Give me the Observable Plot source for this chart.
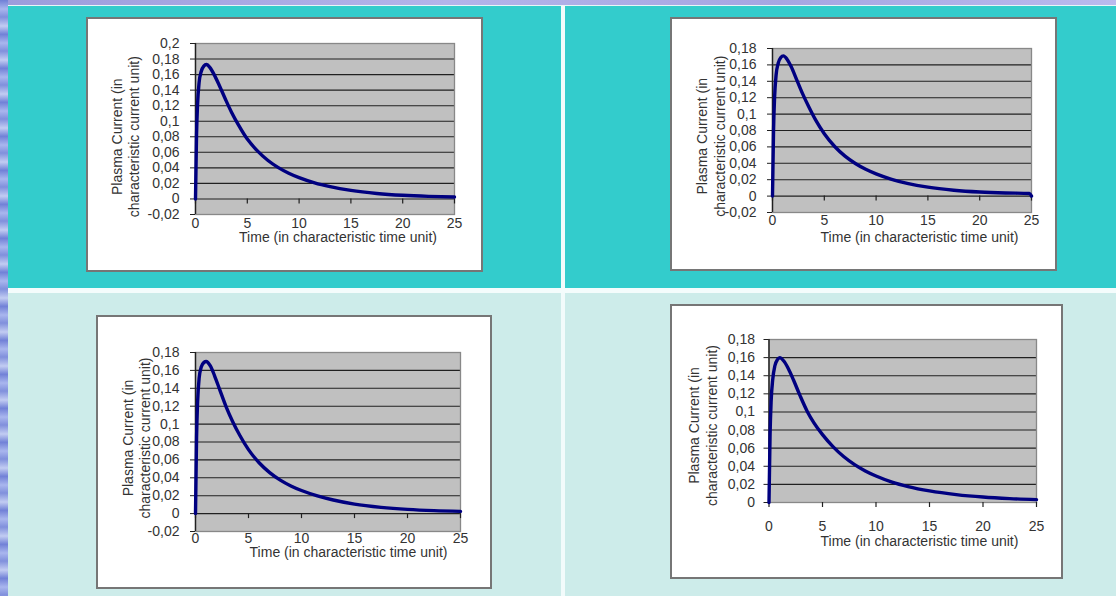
<!DOCTYPE html>
<html><head><meta charset="utf-8">
<script src="https://cdn.jsdelivr.net/npm/d3@7"></script>
<script src="https://cdn.jsdelivr.net/npm/@observablehq/plot@0.6"></script>
<style>
html,body{margin:0;padding:0}
body{width:1116px;height:596px;overflow:hidden;position:relative;background:#cdecea;font-family:"Liberation Sans",Arial,sans-serif}
.bg{position:absolute}
</style></head><body>
<div class="bg" style="left:0;top:0;width:1116px;height:5px;background:linear-gradient(90deg,#9c9cdc,#b4b4ea 40%,#a6a6e2 70%,#babaee)"></div>
<div class="bg" style="left:0;top:0;width:8px;height:596px;background:repeating-linear-gradient(180deg,#6f7fd6 0px,#a9b6ee 9px,#8090dc 17px,#c2ccf2 26px,#7484d8 34px)"></div>
<div class="bg" style="left:8px;top:5px;width:1108px;height:1px;background:#e8f6f6"></div>
<div class="bg" style="left:8px;top:6px;width:553px;height:282px;background:#33cccc"></div>
<div class="bg" style="left:565px;top:6px;width:551px;height:282px;background:#33cccc"></div>
<div class="bg" style="left:561px;top:6px;width:4px;height:590px;background:#f2fbfb"></div>
<div class="bg" style="left:8px;top:288px;width:1108px;height:5px;background:#f4fcfc"></div>
<div class="bg" style="left:8px;top:293px;width:553px;height:303px;background:#cdecea"></div>
<div class="bg" style="left:565px;top:293px;width:551px;height:303px;background:#cdecea"></div>
<script>
// ---- data ----
const xTicks = [0, 5, 10, 15, 20, 25];
const xTickLabels = ["0", "5", "10", "15", "20", "25"];

const yTicksA = [-0.02, 0, 0.02, 0.04, 0.06, 0.08, 0.1, 0.12, 0.14, 0.16, 0.18, 0.2];
const yTickLabelsA = ["-0,02", "0", "0,02", "0,04", "0,06", "0,08", "0,1", "0,12", "0,14", "0,16", "0,18", "0,2"];
const yTicksB = [-0.02, 0, 0.02, 0.04, 0.06, 0.08, 0.1, 0.12, 0.14, 0.16, 0.18];
const yTickLabelsB = ["-0,02", "0", "0,02", "0,04", "0,06", "0,08", "0,1", "0,12", "0,14", "0,16", "0,18"];
const yTicksC = [0, 0.02, 0.04, 0.06, 0.08, 0.1, 0.12, 0.14, 0.16, 0.18];
const yTickLabelsC = ["0", "0,02", "0,04", "0,06", "0,08", "0,1", "0,12", "0,14", "0,16", "0,18"];

const xTitle = "Time (in characteristic time unit)";
const yTitleLines = ["Plasma Current (in", "characteristic current unit)"];

const time1 = [0, 0.1, 0.2, 0.35, 0.55, 0.8, 1.05, 1.4, 1.8, 2.3, 2.9, 3.5, 4.2, 5, 6, 7, 8, 9, 10, 11.5, 13, 15, 17.5, 20, 22.5, 25];
const current1 = [0, 0.082, 0.122, 0.15, 0.164, 0.171, 0.173, 0.169, 0.160, 0.146, 0.128, 0.111, 0.094, 0.077, 0.0615, 0.0495, 0.0403, 0.0331, 0.0274, 0.0207, 0.0158, 0.0110, 0.0071, 0.0047, 0.0033, 0.0025];

const time2 = [0, 0.1, 0.2, 0.35, 0.55, 0.8, 1.05, 1.4, 1.8, 2.3, 2.9, 3.5, 4.2, 5, 6, 7, 8, 9, 10, 11.5, 13, 15, 17.5, 20, 22.5, 24.8, 25];
const current2 = [0, 0.08, 0.12, 0.148, 0.162, 0.169, 0.171, 0.167, 0.158, 0.143, 0.125, 0.109, 0.092, 0.076, 0.0605, 0.0488, 0.0398, 0.0327, 0.0271, 0.0205, 0.0156, 0.0109, 0.0072, 0.0050, 0.0038, 0.0032, 0];

const time3 = [0, 0.1, 0.2, 0.35, 0.55, 0.8, 1.0, 1.4, 1.8, 2.3, 2.9, 3.5, 4.2, 5, 6, 7, 8, 9, 10, 11.5, 13, 15, 17.5, 20, 22.5, 25];
const current3 = [0, 0.085, 0.125, 0.152, 0.164, 0.169, 0.170, 0.165, 0.154, 0.138, 0.119, 0.103, 0.087, 0.0715, 0.0568, 0.0458, 0.0374, 0.0309, 0.0258, 0.0198, 0.0152, 0.0106, 0.0070, 0.0047, 0.0033, 0.0025];

const time4 = [0, 0.1, 0.2, 0.35, 0.55, 0.8, 1.0, 1.4, 1.8, 2.3, 2.9, 3.6, 4.2, 5, 6, 7, 8, 9, 10, 11.5, 13, 15, 17.5, 20, 22.5, 25];
const current4 = [0, 0.075, 0.112, 0.136, 0.151, 0.158, 0.160, 0.156, 0.148, 0.135, 0.118, 0.100, 0.088, 0.075, 0.0615, 0.0505, 0.0418, 0.0348, 0.0292, 0.0225, 0.0176, 0.0128, 0.0087, 0.0060, 0.0043, 0.0032];

// ---- layout ----
const panels = [
  {left: 86, top: 17, w: 397, h: 255, mL: 109, mR: 29, mT: 26, mB: 58,
   t: time1, v: current1, yTicks: yTicksA, yLabels: yTickLabelsA, tp: 11, xPad: 4,
   xtDx: 13, xtDy: 23, ytDx: -70.5, ytDy: 7.7, lh: 17},
  {left: 670, top: 17, w: 387, h: 254, mL: 102, mR: 26, mT: 31, mB: 59,
   t: time2, v: current2, yTicks: yTicksB, yLabels: yTickLabelsB, tp: 11, xPad: 3,
   xtDx: 17.5, xtDy: 24.7, ytDx: -62.6, ytDy: 5.7, lh: 18.7},
  {left: 96, top: 315, w: 396, h: 274, mL: 99, mR: 32, mT: 37, mB: 58,
   t: time3, v: current3, yTicks: yTicksB, yLabels: yTickLabelsB, tp: 11, xPad: 2,
   xtDx: 20.5, xtDy: 21, ytDx: -59.6, ytDy: -4, lh: 16.7},
  {left: 670, top: 304, w: 393, h: 275, mL: 98.5, mR: 27, mT: 35, mB: 77,
   t: time4, v: current4, yTicks: yTicksC, yLabels: yTickLabelsC, tp: 9, xPad: 19,
   xtDx: 16.7, xtDy: 39.5, ytDx: -66.7, ytDy: 4.5, lh: 18.5}
];

const font = "'Liberation Sans', Arial, sans-serif";

for (const p of panels) {
  const box = document.createElement("div");
  box.style.cssText = `position:absolute;left:${p.left}px;top:${p.top}px;width:${p.w}px;height:${p.h}px;background:#fff;border:2px solid #767676;box-sizing:border-box`;
  document.body.appendChild(box);

  const data = p.t.map((t, i) => ({t, v: p.v[i]}));
  const yDom = [p.yTicks[0], p.yTicks[p.yTicks.length - 1]];
  const chart = Plot.plot({
    width: p.w, height: p.h,
    marginLeft: p.mL, marginRight: p.mR, marginTop: p.mT, marginBottom: p.mB,
    x: {domain: [0, 25]},
    y: {domain: yDom},
    style: {background: "transparent", fontFamily: font, fontSize: "14px", color: "#333", overflow: "visible"},
    marks: [
      Plot.frame({fill: "#c0c0c0"}),
      Plot.ruleY(p.yTicks, {stroke: "#202020", strokeWidth: 1.1}),
      Plot.frame({stroke: "#888", strokeWidth: 1.3}),
      Plot.ruleX([0], {stroke: "#202020", strokeWidth: 1.4}),
      Plot.ruleX(xTicks, {y1: () => 0, y2: () => 0, insetBottom: -5, stroke: "#202020", strokeWidth: 1.2}),
      Plot.axisY(p.yTicks, {tickSize: 5, tickPadding: p.tp, tickFormat: d => p.yLabels[p.yTicks.indexOf(d)], label: null, fill: "#333", stroke: "#202020"}),
      Plot.axisX(xTicks, {tickSize: 0, tickPadding: p.xPad, tickFormat: d => xTickLabels[xTicks.indexOf(d)], label: null, fill: "#333"}),
      Plot.line(data, {x: "t", y: "v", stroke: "#000080", strokeWidth: 3.4, curve: "monotone-x"}),
      Plot.text([xTitle], {frameAnchor: "bottom", dx: p.xtDx, dy: p.xtDy, lineAnchor: "middle", textAnchor: "middle", fill: "#333"}),
      Plot.text([yTitleLines.join("\n")], {frameAnchor: "left", rotate: -90, dx: p.ytDx, dy: p.ytDy, lineAnchor: "middle", textAnchor: "middle", lineHeight: p.lh / 14, fill: "#333"})
    ]
  });
  chart.style.position = "absolute";
  chart.style.left = p.left + "px";
  chart.style.top = p.top + "px";
  document.body.appendChild(chart);
}
</script>
</body></html>
